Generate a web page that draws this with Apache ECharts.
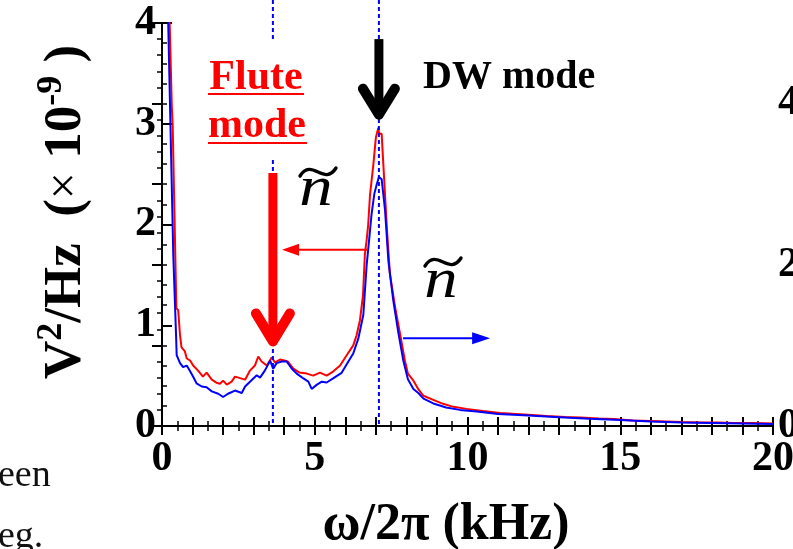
<!DOCTYPE html>
<html><head><meta charset="utf-8">
<script src="https://cdn.jsdelivr.net/npm/echarts@6/dist/echarts.min.js"></script>
<style>html,body{margin:0;padding:0;background:#fff;overflow:hidden}#c{width:793px;height:549px}</style>
</head><body><div id="c"></div>
<script>
// ---- data ----
const redFreq = [0.20,0.32,0.34,0.35,0.47,0.53,0.59,0.64,0.75,0.81,0.92,1.02,1.18,1.34,1.46,1.63,1.78,1.90,2.00,2.12,2.28,2.39,2.50,2.61,2.72,2.88,3.04,3.15,3.26,3.43,3.59,3.70,3.86,4.00,4.12,4.30,4.50,4.74,4.95,5.17,5.39,5.60,5.83,6.04,6.26,6.37,6.48,6.58,6.64,6.70,6.75,6.81,6.92,7.00,7.08,7.11,7.19,7.25,7.36,7.46,7.63,7.79,7.95,8.05,8.23,8.40,8.56,8.88,9.20,9.54,9.97,10.5,11.07,11.6,12.1,12.6,13.2,13.7,14.3,14.8,15.4,16.0,16.5,17.0,17.6,18.2,18.7,19.3,20.0];
const redVal  = [4.6,3.18,3.18,2.98,1.17,1.15,0.90,0.78,0.74,0.67,0.65,0.60,0.55,0.49,0.53,0.46,0.43,0.42,0.45,0.41,0.44,0.49,0.48,0.47,0.46,0.55,0.60,0.69,0.64,0.60,0.68,0.63,0.66,0.65,0.64,0.57,0.53,0.52,0.50,0.53,0.50,0.54,0.60,0.70,0.80,0.90,1.05,1.30,1.70,1.85,2.0,2.3,2.6,2.86,2.96,2.90,2.90,2.57,1.97,1.51,1.18,0.92,0.65,0.52,0.45,0.36,0.30,0.26,0.22,0.19,0.17,0.15,0.13,0.12,0.11,0.10,0.09,0.085,0.075,0.07,0.055,0.05,0.045,0.04,0.035,0.035,0.03,0.03,0.025];
// blue curve is read against the right-hand axis (0-5)
const blueFreq = [0.16,0.37,0.46,0.48,0.59,0.69,0.81,0.92,1.02,1.13,1.30,1.46,1.63,1.84,2.00,2.16,2.39,2.61,2.72,2.88,3.10,3.21,3.37,3.54,3.64,3.75,3.92,4.08,4.25,4.41,4.63,4.79,4.90,5.06,5.23,5.39,5.60,5.88,6.10,6.26,6.43,6.59,6.70,6.78,6.86,6.95,7.03,7.10,7.19,7.30,7.41,7.57,7.74,7.90,8.05,8.23,8.39,8.56,8.88,9.30,9.75,10.3,11.0,12.0,13.0,14.0,15.0,16.0,17.0,18.0,19.0,20.0];
const blueVal  = [5.75,2.11,1.13,0.88,0.78,0.73,0.75,0.68,0.61,0.53,0.49,0.48,0.43,0.40,0.36,0.40,0.44,0.41,0.49,0.55,0.63,0.60,0.69,0.81,0.71,0.78,0.80,0.80,0.71,0.65,0.59,0.55,0.46,0.51,0.55,0.54,0.59,0.66,0.80,0.90,1.09,1.38,2.00,2.31,2.63,2.88,3.00,3.09,3.06,2.68,2.05,1.56,1.15,0.81,0.58,0.46,0.41,0.34,0.28,0.23,0.20,0.18,0.15,0.13,0.11,0.09,0.075,0.056,0.044,0.038,0.031,0.025];
const xTickLabels = [0,5,10,15,20];
const leftTickLabels = [0,1,2,3,4];
const rightTickLabels = [0,2,4];
const modeFreqs = [3.63, 7.1];   // dashed marker positions (kHz)

const SERIF = '"Liberation Serif","Times New Roman",serif';
const chart = echarts.init(document.getElementById('c'), null, {renderer:'canvas'});

function pairs(xs, ys){ return xs.map((x,i)=>[x, ys[i]]); }
const lineOn = {show:true, lineStyle:{color:'#000', width:2}};
const lineOff = {show:false};
const lbl = (list, margin) => ({show:true, margin, color:'#000', fontFamily:SERIF, fontWeight:'bold', fontSize:42,
  formatter: v => list.includes(Math.round(v*1000)/1000) ? String(v) : ''});
const noLbl = {show:false};
const tick = (len, w) => ({show:true, inside:true, length:len, lineStyle:{color:'#000', width:w}});

function ax(grid, pos, min, max, interval, len, w, label, line){
  return {type:'value', gridIndex:grid, position:pos, min, max, interval, axisLine: line ? lineOn : lineOff,
    axisTick: tick(len, w), axisLabel: label || noLbl, splitLine:{show:false}};
}
const rect = {left:162, right:20, top:23, bottom:123, outerBoundsMode:'none'};

chart.setOption({
  animation:false,
  backgroundColor:'#fff',
  grid:[Object.assign({}, rect), Object.assign({}, rect)],
  xAxis:[
    ax(0,'bottom',0,20,1,9,2, lbl(xTickLabels,12), true),
    ax(0,'top',0,20,1,9,2, null, true),
    ax(1,'bottom',0,20,0.5,5,1.5, null, false),
    ax(1,'top',0,20,0.5,5,1.5, null, false)
  ],
  yAxis:[
    ax(0,'left',0,4,1,10,2, lbl(leftTickLabels,6), true),
    ax(0,'right',0,5,1,10,2, lbl(rightTickLabels,5), true),
    ax(1,'left',0,4,0.2,5,1.5, null, false),
    ax(1,'right',0,5,0.2,5,1.5, null, false)
  ],
  series:[
    {type:'line', xAxisIndex:0, yAxisIndex:0, data:pairs(redFreq, redVal), showSymbol:false, symbol:'none',
     lineStyle:{color:'#ff0000', width:2}, clip:true, z:3},
    {type:'line', xAxisIndex:0, yAxisIndex:1, data:pairs(blueFreq, blueVal), showSymbol:false, symbol:'none',
     lineStyle:{color:'#0000ff', width:2}, clip:true, z:4}
  ]
});

const P = (x, y, yi) => chart.convertToPixel({xAxisIndex:0, yAxisIndex:yi||0}, [x, y]);
const bottomY = P(0,0)[1];
const xa = P(modeFreqs[0],0)[0], xb = P(modeFreqs[1],0)[0];
const dash = {stroke:'#0000ff', lineWidth:2, lineDash:[4,3]};

// arrows anchored to data coordinates
const redTip = P(modeFreqs[0], 0.80), redTop = P(modeFreqs[0], 2.51);
const blkTip = P(modeFreqs[1], 3.05), blkTop = P(modeFreqs[1], 3.84);
const rA1 = P(6.74, 1.75), rA2 = P(3.93, 1.75);
const bA1 = P(7.89, 0.87), bA2 = P(10.74, 0.87);

function tilde(cx, cy, w){
  return {type:'bezierCurve', z:20, shape:{x1:cx-w/2, y1:cy+4, cpx1:cx-w/6, cpy1:cy-15, cpx2:cx+w/6, cpy2:cy+15, x2:cx+w/2, y2:cy-4},
    style:{stroke:'#000', lineWidth:3.4, fill:null, lineCap:'round'}};
}

const g = [
  {type:'line', z:10, shape:{x1:xa, y1:0, x2:xa, y2:40}, style:dash},
  {type:'line', z:10, shape:{x1:xa, y1:160, x2:xa, y2:bottomY}, style:dash},
  {type:'line', z:10, shape:{x1:xb, y1:0, x2:xb, y2:bottomY}, style:dash},
  // red thick arrow
  {type:'line', z:12, shape:{x1:redTop[0], y1:redTop[1], x2:redTip[0], y2:redTip[1]-8}, style:{stroke:'#ff0000', lineWidth:9, lineCap:'butt'}},
  {type:'polyline', z:12, shape:{points:[[redTip[0]-17, redTip[1]-32],[redTip[0], redTip[1]-4],[redTip[0]+17, redTip[1]-32]]},
   style:{stroke:'#ff0000', lineWidth:10, lineCap:'round', lineJoin:'round', fill:null}},
  // black thick arrow
  {type:'line', z:12, shape:{x1:blkTop[0], y1:blkTop[1], x2:blkTip[0], y2:blkTip[1]-8}, style:{stroke:'#000', lineWidth:9, lineCap:'butt'}},
  {type:'polyline', z:12, shape:{points:[[blkTip[0]-16, blkTip[1]-30],[blkTip[0], blkTip[1]-4],[blkTip[0]+16, blkTip[1]-30]]},
   style:{stroke:'#000', lineWidth:10, lineCap:'round', lineJoin:'round', fill:null}},
  // red thin arrow (pointing left)
  {type:'line', z:12, shape:{x1:rA1[0], y1:rA1[1], x2:rA2[0]+14, y2:rA2[1]}, style:{stroke:'#ff0000', lineWidth:2}},
  {type:'polygon', z:12, shape:{points:[[rA2[0], rA2[1]],[rA2[0]+17, rA2[1]-6],[rA2[0]+17, rA2[1]+6]]}, style:{fill:'#ff0000'}},
  // blue thin arrow (pointing right)
  {type:'line', z:12, shape:{x1:bA1[0], y1:bA1[1], x2:bA2[0]-14, y2:bA2[1]}, style:{stroke:'#0000ff', lineWidth:2}},
  {type:'polygon', z:12, shape:{points:[[bA2[0], bA2[1]],[bA2[0]-18, bA2[1]-6],[bA2[0]-18, bA2[1]+6]]}, style:{fill:'#0000ff'}},
  // Flute mode label
  {type:'text', z:15, x:256, y:78, style:{text:'Flute', fill:'#ff0000', fontFamily:SERIF, fontWeight:'bold', fontSize:42, align:'center', verticalAlign:'middle'}},
  {type:'line', z:15, shape:{x1:208, y1:94, x2:304, y2:94}, style:{stroke:'#ff0000', lineWidth:2}},
  {type:'text', z:15, x:257, y:126, style:{text:'mode', fill:'#ff0000', fontFamily:SERIF, fontWeight:'bold', fontSize:42, align:'center', verticalAlign:'middle'}},
  {type:'line', z:15, shape:{x1:208, y1:143, x2:307, y2:143}, style:{stroke:'#ff0000', lineWidth:2}},
  // DW mode
  {type:'text', z:15, x:423, y:78, style:{text:'DW mode', fill:'#000', fontFamily:SERIF, fontWeight:'bold', fontSize:40, align:'left', verticalAlign:'middle'}},
  // n-tilde labels
  {type:'text', z:20, x:316, y:190, scaleX:1.15, style:{text:'n', fill:'#000', fontFamily:SERIF, fontStyle:'italic', fontSize:58, align:'center', verticalAlign:'middle'}},
  tilde(318, 172, 36),
  {type:'text', z:20, x:441, y:282, scaleX:1.15, style:{text:'n', fill:'#000', fontFamily:SERIF, fontStyle:'italic', fontSize:58, align:'center', verticalAlign:'middle'}},
  tilde(443, 262, 36),
  // axis names
  {type:'text', z:15, x:66, y:212, rotation:Math.PI/2,
   style:{text:'{b|V}{s|2}{b|/Hz  (}{m|×}{b| 10}{s|-9}{b| )}', fill:'#000', align:'center', verticalAlign:'middle',
     rich:{ b:{fontFamily:SERIF, fontWeight:'bold', fontSize:53, fill:'#000', lineHeight:64},
            s:{fontFamily:SERIF, fontWeight:'bold', fontSize:36, fill:'#000', verticalAlign:'top', lineHeight:64},
            m:{fontFamily:SERIF, fontWeight:'normal', fontSize:48, fill:'#000', lineHeight:64} }}},
  {type:'text', z:15, x:446, y:526, style:{text:'ω/2π (kHz)', fill:'#000', fontFamily:SERIF, fontWeight:'bold', fontSize:52, align:'center', verticalAlign:'middle'}},
  // surrounding page text (cropped)
  {type:'text', z:15, x:-2, y:476, style:{text:'een', fill:'#111', fontFamily:SERIF, fontSize:38, align:'left', verticalAlign:'middle'}},
  {type:'text', z:15, x:-2, y:537, style:{text:'eg.', fill:'#111', fontFamily:SERIF, fontSize:38, align:'left', verticalAlign:'middle'}}
];
chart.setOption({graphic:g});
</script></body></html>
